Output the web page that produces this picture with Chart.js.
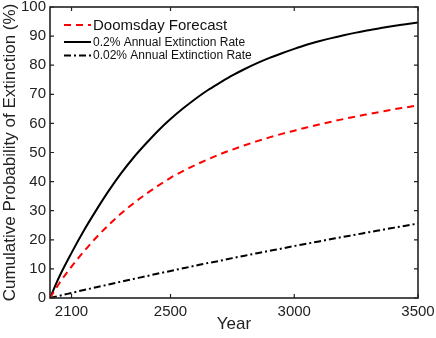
<!DOCTYPE html>
<html>
<head>
<meta charset="utf-8">
<script src="https://cdn.jsdelivr.net/npm/chart.js@4.4.1/dist/chart.umd.min.js"></script>
<style>
  html, body { margin: 0; padding: 0; background: #fff; }
  #wrap { width: 436px; height: 338px; position: relative; }
</style>
</head>
<body>
<div id="wrap"><canvas id="extChart"></canvas></div>
<script>
// ===== Data =====
const years = [2013, 2050, 2100, 2150, 2200, 2250, 2300, 2350, 2400, 2450, 2500,
  2550, 2600, 2650, 2700, 2750, 2800, 2850, 2900, 2950, 3000,
  3050, 3100, 3150, 3200, 3250, 3300, 3350, 3400, 3450, 3500];
const doomsday = [0, 5.0, 10.8, 16.0, 20.8, 25.1, 29.0, 32.5, 35.7, 38.6, 41.3,
  43.6, 45.7, 47.6, 49.4, 51.0, 52.5, 53.9, 55.2, 56.4, 57.5,
  58.6, 59.6, 60.6, 61.5, 62.4, 63.2, 64.0, 64.8, 65.5, 66.2];
const rate02 = [0, 7.2, 15.5, 23.2, 30.2, 36.8, 42.8, 48.2, 53.0, 57.5, 61.5,
  65.1, 68.4, 71.4, 74.0, 76.5, 78.7, 80.7, 82.5, 84.1, 85.6,
  87.0, 88.2, 89.3, 90.3, 91.2, 92.0, 92.8, 93.5, 94.1, 94.7];
const rate002 = [0, 0.75, 1.75, 2.75, 3.7, 4.65, 5.6, 6.55, 7.45, 8.4, 9.3,
  10.2, 11.1, 12.0, 12.8, 13.7, 14.55, 15.4, 16.2, 17.0, 17.85,
  18.65, 19.45, 20.25, 21.05, 21.8, 22.6, 23.35, 24.1, 24.85, 25.6];
const xTicks = [2100, 2500, 3000, 3500];
const legendLabels = ['Doomsday Forecast', '0.2% Annual Extinction Rate', '0.02% Annual Extinction Rate'];

const FONT = "'Liberation Sans', Arial, Helvetica, sans-serif";

function toPoints(vals) {
  return years.map((y, i) => ({ x: y, y: vals[i] }));
}

// ===== Box, inward ticks and legend =====
const frameAndLegend = {
  id: 'frameAndLegend',
  afterDatasetsDraw(chart) {
    const { ctx, chartArea: a, scales } = chart;
    ctx.save();
    ctx.strokeStyle = '#222';
    ctx.lineWidth = 1.6;
    ctx.strokeRect(a.left, a.top, a.right - a.left, a.bottom - a.top);

    ctx.lineWidth = 1.2;
    const tl = 4;
    xTicks.forEach(v => {
      const px = scales.x.getPixelForValue(v);
      ctx.beginPath();
      ctx.moveTo(px, a.bottom); ctx.lineTo(px, a.bottom - tl);
      ctx.moveTo(px, a.top); ctx.lineTo(px, a.top + tl);
      ctx.stroke();
    });
    for (let v = 0; v <= 100; v += 10) {
      const py = scales.y.getPixelForValue(v);
      ctx.beginPath();
      ctx.moveTo(a.left, py); ctx.lineTo(a.left + tl, py);
      ctx.moveTo(a.right, py); ctx.lineTo(a.right - tl, py);
      ctx.stroke();
    }

    // legend
    const rows = [
      { y: 25, size: 15 },
      { y: 42, size: 12 },
      { y: 55.5, size: 12 }
    ];
    ctx.textBaseline = 'middle';
    ctx.fillStyle = '#111';
    chart.data.datasets.forEach((ds, i) => {
      const r = rows[i];
      ctx.strokeStyle = ds.borderColor;
      ctx.lineWidth = 2;
      ctx.setLineDash(ds.borderDash || []);
      ctx.beginPath();
      ctx.moveTo(64, r.y); ctx.lineTo(91, r.y);
      ctx.stroke();
      ctx.setLineDash([]);
      ctx.font = r.size + 'px ' + FONT;
      ctx.fillText(legendLabels[i], 93, r.y + 0.5);
    });
    ctx.restore();
  }
};

const chart = new Chart(document.getElementById('extChart'), {
  type: 'line',
  data: {
    datasets: [
      {
        label: legendLabels[0],
        data: toPoints(doomsday),
        borderColor: '#ff0000',
        borderWidth: 2,
        borderDash: [7, 5],
        pointRadius: 0,
        cubicInterpolationMode: 'monotone'
      },
      {
        label: legendLabels[1],
        data: toPoints(rate02),
        borderColor: '#000000',
        borderWidth: 2,
        pointRadius: 0,
        cubicInterpolationMode: 'monotone'
      },
      {
        label: legendLabels[2],
        data: toPoints(rate002),
        borderColor: '#000000',
        borderWidth: 2,
        borderDash: [7, 3, 2, 3],
        pointRadius: 0,
        cubicInterpolationMode: 'monotone'
      }
    ]
  },
  options: {
    responsive: true,
    maintainAspectRatio: false,
    animation: false,
    layout: { padding: { top: 7, right: 18, left: 0, bottom: 0 } },
    plugins: {
      legend: { display: false },
      tooltip: { enabled: false }
    },
    scales: {
      x: {
        type: 'linear',
        min: 2013,
        max: 3500,
        afterBuildTicks: scale => { scale.ticks = xTicks.map(v => ({ value: v })); },
        afterFit: scale => {
          scale.height = 40;
          scale.paddingLeft = 0;
          scale.paddingRight = 0;
        },
        grid: { display: false, drawTicks: false },
        border: { display: false },
        ticks: {
          color: '#222',
          padding: 5,
          maxRotation: 0,
          font: { family: FONT, size: 15 },
          callback: v => String(v)
        },
        title: {
          display: true,
          text: 'Year',
          color: '#222',
          padding: { top: 0, bottom: 3 },
          font: { family: FONT, size: 17 }
        }
      },
      y: {
        min: 0,
        max: 100,
        afterFit: scale => {
          scale.width = 50;
          scale.paddingTop = 0;
          scale.paddingBottom = 0;
        },
        grid: { display: false, drawTicks: false },
        border: { display: false },
        ticks: {
          stepSize: 10,
          color: '#222',
          padding: 4,
          font: { family: FONT, size: 15 }
        },
        title: {
          display: true,
          text: 'Cumulative Probability of Extinction (%)',
          color: '#222',
          padding: { top: 0, bottom: 0 },
          font: { family: FONT, size: 17 }
        }
      }
    }
  },
  plugins: [frameAndLegend]
});
</script>
</body>
</html>
